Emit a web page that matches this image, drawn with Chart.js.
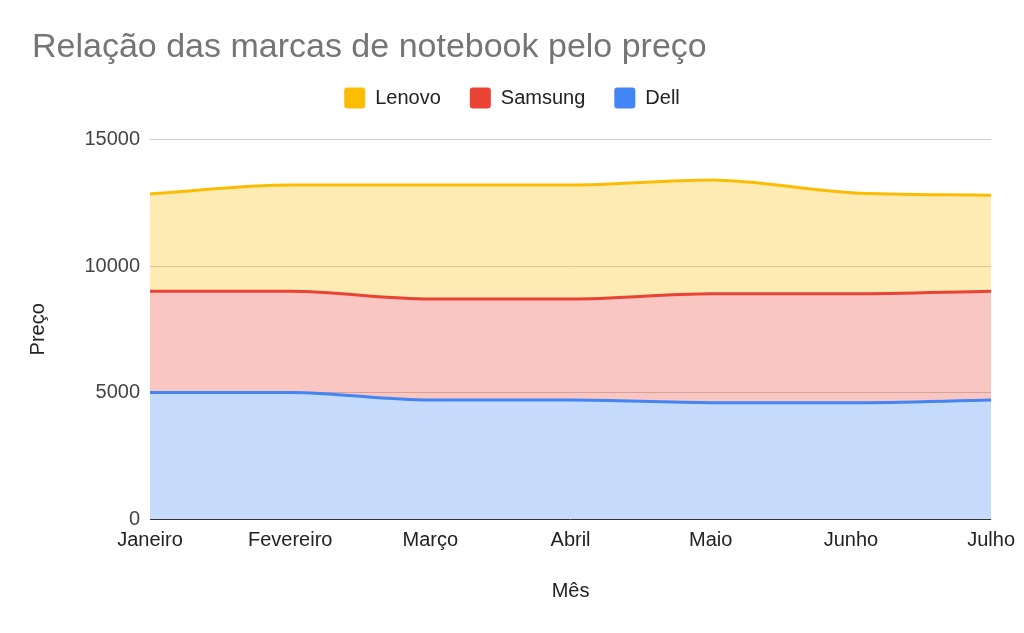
<!DOCTYPE html>
<html lang="pt">
<head>
<meta charset="utf-8">
<title>Relação das marcas de notebook pelo preço</title>
<script src="https://cdn.jsdelivr.net/npm/chart.js@4.4.1/dist/chart.umd.min.js"></script>
<style>
    body { margin: 0; background: #fff; }
    #wrap { width: 1024px; height: 633px; position: relative; }
</style>
</head>
<body>
<div id="wrap"><canvas id="areaChart"></canvas></div>
<script>
// Preço por marca de notebook, empilhado
const meses = ['Janeiro', 'Fevereiro', 'Março', 'Abril', 'Maio', 'Junho', 'Julho'];
const dell = [5000, 5000, 4700, 4700, 4600, 4600, 4700];
const samsung = [4000, 4000, 4000, 4000, 4300, 4300, 4300];
const lenovo = [3850, 4200, 4500, 4500, 4500, 4000, 3800];
const yTicks = [0, 5000, 10000, 15000];

const cores = {
    dell: '#4285f4',
    samsung: '#ea4335',
    lenovo: '#fbbc04'
};

function serie(label, data, cor, fill) {
    return {
        label: label,
        data: data,
        borderColor: cor,
        backgroundColor: cor + '4d',
        borderWidth: 3,
        fill: fill,
        pointRadius: 0,
        pointHoverRadius: 0,
        cubicInterpolationMode: 'monotone'
    };
}

Chart.defaults.font.family = "'Liberation Sans', Arial, sans-serif";
Chart.defaults.font.size = 20;
Chart.defaults.color = '#222';

const ctx = document.getElementById('areaChart').getContext('2d');
const chart = new Chart(ctx, {
    type: 'line',
    data: {
        labels: meses,
        datasets: [
            serie('Dell', dell, cores.dell, 'origin'),
            serie('Samsung', samsung, cores.samsung, '-1'),
            serie('Lenovo', lenovo, cores.lenovo, '-1')
        ]
    },
    options: {
        responsive: true,
        maintainAspectRatio: false,
        animation: false,
        devicePixelRatio: 1,
        layout: { padding: { left: 32, right: 32, top: 0, bottom: 30 } },
        plugins: {
            title: {
                display: true,
                text: 'Relação das marcas de notebook pelo preço',
                align: 'start',
                color: '#757575',
                font: { size: 34, weight: 'normal', lineHeight: 0.59 },
                padding: { top: 38, bottom: 0.5 }
            },
            // empty spacer between legend and plot
            subtitle: {
                display: true,
                text: ' ',
                weight: 500,
                font: { size: 10, lineHeight: 1 },
                padding: { top: 11, bottom: 0 }
            },
            legend: {
                reverse: true,
                labels: {
                    boxWidth: 21,
                    boxHeight: 21,
                    useBorderRadius: true,
                    borderRadius: 3,
                    padding: 29,
                    color: '#222',
                    generateLabels: (c) => Chart.defaults.plugins.legend.labels.generateLabels(c).map(l => {
                        const ds = c.data.datasets[l.datasetIndex];
                        l.fillStyle = ds.borderColor;
                        l.strokeStyle = ds.borderColor;
                        l.lineWidth = 0;
                        return l;
                    })
                }
            },
            tooltip: { enabled: false }
        },
        scales: {
            x: {
                offset: false,
                grid: { display: false, drawTicks: false },
                border: { display: false },
                ticks: { color: '#222', padding: 9, maxRotation: 0, autoSkip: false },
                title: { display: true, text: 'Mês', color: '#222', padding: 0 },
                afterFit: (scale) => { scale.height = 84; }
            },
            y: {
                stacked: true,
                min: 0,
                max: 15000,
                grid: {
                    drawTicks: false,
                    color: (c) => c.tick && c.tick.value === 0 ? '#333' : '#ccc'
                },
                border: { display: false },
                afterBuildTicks: (scale) => { scale.ticks = yTicks.map(v => ({ value: v })); },
                ticks: { color: '#444', padding: 10, callback: (v) => String(v) },
                title: { display: true, text: 'Preço', color: '#222', padding: { top: -6, bottom: 0 } },
                afterFit: (scale) => { scale.width = 118; }
            }
        }
    }
});
</script>
</body>
</html>
